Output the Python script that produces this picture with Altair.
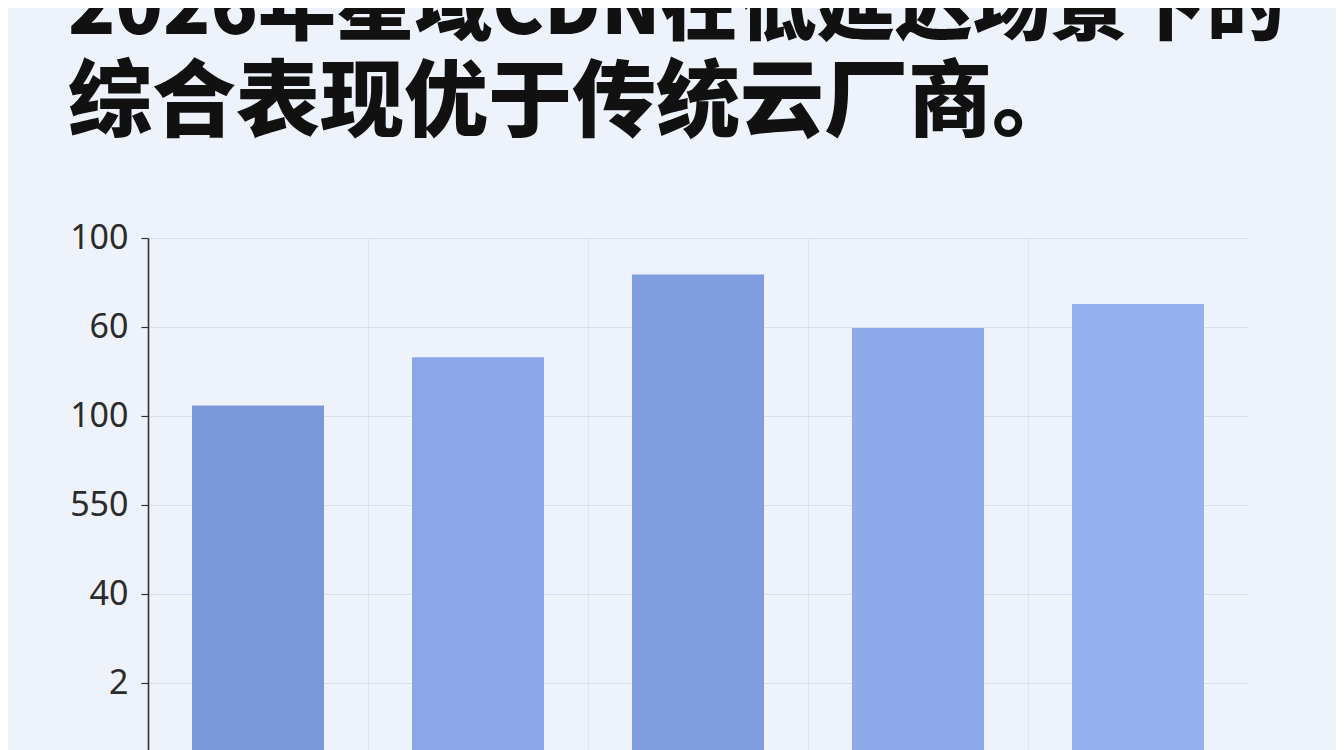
import altair as alt
import pandas as pd

# ---- data ----
categories = ["类别1", "类别2", "类别3", "类别4", "类别5"]
values = [41.2, 46.6, 55.9, 49.9, 52.6]
bar_colors = ["#7b98db", "#8ba7e8", "#7f9ddf", "#8eaaeb", "#97b1ee"]
tick_values = [10, 20, 30, 40, 50, 60]
tick_labels = ["2", "40", "550", "100", "60", "100"]
title_line1 = "2026年星域CDN在低延迟场景下的"
title_line2 = "综合表现优于传统云厂商。"

df = pd.DataFrame({"cat": categories, "value": values, "color": bar_colors})

label_expr = " : ".join(
    f"datum.value == {v} ? '{l}'" for v, l in zip(tick_values, tick_labels)
) + " : ''"

bars = alt.Chart(df).mark_bar(clip=True).encode(
    x=alt.X(
        "cat:N",
        sort=categories,
        scale=alt.Scale(paddingInner=0.4, paddingOuter=0.2),
        axis=alt.Axis(
            labels=False, ticks=False, domain=False, title=None,
            grid=True, bandPosition=-1 / 3, gridColor="#e1e5ee", gridWidth=1,
        ),
    ),
    y=alt.Y(
        "value:Q",
        scale=alt.Scale(domain=[2.5, 60], zero=False, nice=False),
        axis=alt.Axis(
            values=tick_values, labelExpr=label_expr, title=None,
            labelFont="Noto Sans", labelFontSize=34, labelColor="#2b2b2b",
            labelPadding=13, tickSize=7, tickColor="#333333", tickWidth=1.2,
            domainColor="#333333", domainWidth=1.6,
            gridColor="#d9dde6", gridWidth=1,
        ),
    ),
    color=alt.Color("color:N", scale=None),
)

title_font = "Noto Sans CJK SC"

chart = bars.properties(
    width=1100,
    height=512,
    autosize=alt.AutoSizeParams(type="none"),
    padding={"left": 140, "top": 230, "right": 88, "bottom": 0},
    background="#eef2fa",
    title=alt.TitleParams(
        text=title_line1,
        subtitle=title_line2,
        anchor="start",
        frame="group",
        dx=-80,
        offset=74,
        fontSize=78,
        font=title_font,
        fontWeight=900,
        color="#111111",
        subtitleFontSize=84,
        subtitleFont=title_font,
        subtitleFontWeight=900,
        subtitleColor="#111111",
        subtitlePadding=14,
    ),
).configure_view(stroke=None)

chart.save("out.html", embed_options={"renderer": "svg", "actions": False})
